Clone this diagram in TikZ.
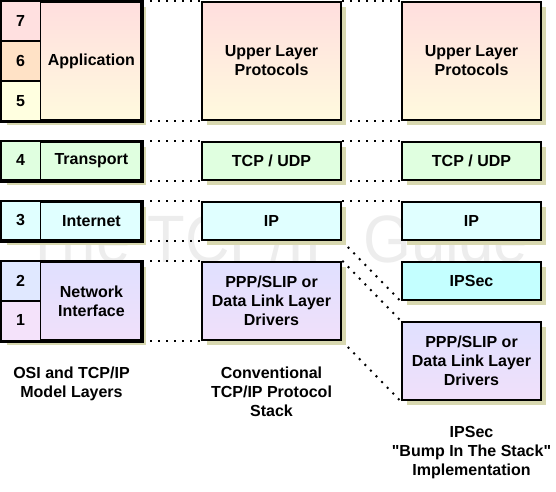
\documentclass[tikz,border=0pt]{standalone}
\usepackage{fontspec}
\setmainfont{Liberation Sans}
\usetikzlibrary{positioning,shadows,backgrounds}

\definecolor{appTop}{RGB}{255,222,222}
\definecolor{appBot}{RGB}{255,250,222}
\definecolor{cellSeven}{RGB}{255,224,224}
\definecolor{cellSix}{RGB}{255,226,198}
\definecolor{cellFive}{RGB}{255,255,224}
\definecolor{tpFill}{RGB}{224,255,224}
\definecolor{ipFill}{RGB}{224,255,255}
\definecolor{secFill}{RGB}{196,255,255}
\definecolor{linkTop}{RGB}{224,224,255}
\definecolor{linkBot}{RGB}{240,224,250}
\definecolor{cellTwo}{RGB}{224,232,255}
\definecolor{cellOne}{RGB}{244,226,250}
\definecolor{shadowCol}{RGB}{216,216,176}

\begin{document}
\begin{tikzpicture}[
  x=1pt, y=-1pt,
  node distance=19.5pt and 58.5pt,
  font=\fontsize{16}{19}\selectfont\bfseries,
  box/.style={draw, line width=2.5pt, minimum width=139pt, align=center, inner sep=2pt,
    drop shadow={shadow xshift=5pt, shadow yshift=-5pt, fill=shadowCol, opacity=1}},
  tall/.style={minimum height=118pt},
  flat/.style={minimum height=38pt},
  mid/.style={minimum height=78pt},
  rim/.style={draw, line width=2.5pt},
  cell/.style={draw, line width=0.8pt, minimum width=39pt, inner sep=0pt, anchor=north west},
  upper/.style={top color=appTop, bottom color=appBot},
  link/.style={top color=linkTop, bottom color=linkBot},
  guide/.style={line width=2pt, dash pattern=on 2pt off 6pt},
  caption/.style={align=center, inner sep=0pt}
]
\useasboundingbox (0,0) rectangle (556,491);

% OSI and TCP/IP model layers
\node[box, upper, tall] (appbox) at (71.5,61) {};
\node[cell, fill=cellSeven, minimum height=39.33pt] (n7) at (appbox.north west) {7};
\node[cell, fill=cellSix, minimum height=39.33pt] (n6) at (n7.south west) {6};
\node[cell, fill=cellFive, minimum height=39.33pt] (n5) at (n6.south west) {5};
\path (n6.east) -- node {Application} (appbox.east);
\draw[rim] (appbox.north west) rectangle (appbox.south east);

\node[box, fill=tpFill, flat, below=of appbox] (tpbox) {};
\node[cell, fill=tpFill, minimum height=38pt] (n4) at (tpbox.north west) {4};
\path (n4.east) -- node {Transport} (tpbox.east);
\draw[rim] (tpbox.north west) rectangle (tpbox.south east);

\node[box, fill=ipFill, flat, below=of tpbox] (inbox) {};
\node[cell, fill=ipFill, minimum height=38pt] (n3) at (inbox.north west) {3};
\path (n3.east) -- node {Internet} (inbox.east);
\draw[rim] (inbox.north west) rectangle (inbox.south east);

\node[box, link, mid, below=of inbox] (nibox) {};
\node[cell, fill=cellTwo, minimum height=39pt] (n2) at (nibox.north west) {2};
\node[cell, fill=cellOne, minimum height=39pt] (n1) at (n2.south west) {1};
\path (n2.south east) -- node[align=center] {Network\\Interface} (nibox.east);
\draw[rim] (nibox.north west) rectangle (nibox.south east);

% conventional stack
\node[box, upper, tall, right=of appbox] (upl) {Upper Layer\\Protocols};
\node[box, fill=tpFill, flat, right=of tpbox] (tcp) {TCP / UDP};
\node[box, fill=ipFill, flat, right=of inbox] (ip) {IP};
\node[box, link, mid, right=of nibox] (ppp) {PPP/SLIP or\\Data Link Layer\\Drivers};

% bump in the stack
\node[box, upper, tall, right=of upl] (upl2) {Upper Layer\\Protocols};
\node[box, fill=tpFill, flat, right=of tcp] (tcp2) {TCP / UDP};
\node[box, fill=ipFill, flat, right=of ip] (ip2) {IP};
\node[box, fill=secFill, flat, below=of ip2] (ipsec) {IPSec};
\node[box, link, mid, below=of ipsec] (ppp2) {PPP/SLIP or\\Data Link Layer\\Drivers};

\node[caption, below=25pt of nibox] (osicap) {OSI and TCP/IP\\Model Layers};
\node[caption, below=25pt of ppp] (stdcap) {Conventional\\TCP/IP Protocol\\Stack};
\node[caption, below=25pt of ppp2] (bitscap) {IPSec\\\textquotedbl Bump In The Stack\textquotedbl\\Implementation};

\begin{scope}[on background layer]
\node[text=black!7, font=\fontsize{67}{67}\selectfont, anchor=base] (mark) at (276,262) {\scalebox{0.92}[1]{The TCP/IP Guide}};
\draw[guide] (appbox.north east) -- (upl.north west);
\draw[guide] (appbox.south east) -- (upl.south west);
\draw[guide] (tpbox.north east) -- (tcp.north west);
\draw[guide] (tpbox.south east) -- (tcp.south west);
\draw[guide] (inbox.north east) -- (ip.north west);
\draw[guide] (inbox.south east) -- (ip.south west);
\draw[guide] (nibox.north east) -- (ppp.north west);
\draw[guide] (nibox.south east) -- (ppp.south west);
\draw[guide] (upl.north east) -- (upl2.north west);
\draw[guide] (upl.south east) -- (upl2.south west);
\draw[guide] (tcp.north east) -- (tcp2.north west);
\draw[guide] (tcp.south east) -- (tcp2.south west);
\draw[guide] (ip.north east) -- (ip2.north west);
\draw[guide] (ip.south east) -- (ipsec.south west);
\draw[guide] (ppp.north east) -- (ppp2.north west);
\draw[guide] (ppp.south east) -- (ppp2.south west);
\end{scope}
\end{tikzpicture}
\end{document}
